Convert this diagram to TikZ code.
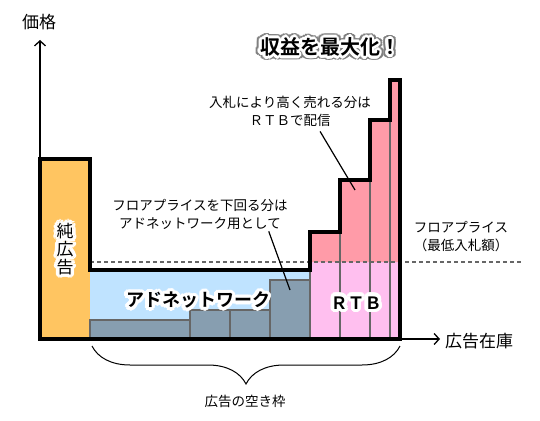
\documentclass[tikz,border=0pt]{standalone}
\usepackage{fontspec}
\setmainfont{Noto Sans CJK JP}
\newfontfamily\jpbold{Noto Sans CJK JP Bold}
\usepackage{tikz}
\usetikzlibrary{arrows.meta}
\usetikzlibrary{decorations.pathreplacing}

\definecolor{pureorange}{HTML}{FFC561}
\definecolor{adsky}{HTML}{BFE3FF}
\definecolor{adslate}{HTML}{879EB0}
\definecolor{rtblow}{HTML}{FFBFEF}
\definecolor{rtbhigh}{HTML}{FF9BA8}
\definecolor{edgegray}{HTML}{666666}

% ring of copies behind a text: style, position, radius, colour, text
\newcommand{\haloring}[5]{%
  \foreach \a in {0,22.5,...,337.5}
    \node[#1, text = #4] at ([shift = {(\a:#3)}] #2) {#5};}

\begin{document}
\begin{tikzpicture}[x = 1pt, y = -1pt,
  every node/.style = {inner sep = 1pt, font = \fontsize{13.5}{18}\selectfont},
  heavy/.style = {font = \jpbold\fontsize{#1}{#1}\selectfont},
  plain/.style = {font = \fontsize{#1}{#1}\selectfont},
  slot/.style = {fill = adslate, draw = edgegray, line width = 1.3pt},
  divider/.style = {draw = edgegray, line width = 1.3pt},
  outline/.style = {line width = 3.6pt, line join = miter},
  axis/.style = {line width = 1.7pt, -{Straight Barb[length = 5pt, width = 11pt, line width = 1.3pt]}},
  leader/.style = {line width = 1.2pt}
]
\useasboundingbox (0,0) rectangle (540,420);

% fills
\fill[pureorange] (40,159) rectangle (90,339);
\fill[adsky] (90,270) rectangle (310,339);
\fill[rtblow] (310,262) rectangle (400,339);
\fill[rtbhigh] (310,262) |- (340,232) |- (370,180) |- (390,120) |- (400,80) -- (400,262) -- cycle;

% ad network slots
\filldraw[slot] (90,339) rectangle (190,320);
\filldraw[slot] (190,339) rectangle (230,310);
\filldraw[slot] (230,339) rectangle (270,310);
\filldraw[slot] (270,339) rectangle (310,280);

% rtb slots
\draw[divider] (310,262) -- (310,339);
\foreach \x/\t in {340/232, 370/180, 390/120}
  \draw[divider] (\x,\t) -- (\x,339);

% floor price
\draw[edgegray, line width = 1.2pt, dash pattern = on 4pt off 3pt] (90,262) -- (522,262);

\draw[outline] (40,339) |- (90,159) |- (310,270) |- (340,232) |- (370,180)
  |- (390,120) |- (400,80) -- (400,339) -- cycle;

% axes
\coordinate (origin) at (40,339);
\coordinate (ytip) at (40,40);
\coordinate (xtip) at (440,339);
\draw[axis] (origin) -- (ytip);
\draw[axis] (origin) -- (xtip);
\node[plain = 17] (price) at (39,22) {価格};
\node[plain = 17, anchor = west] (stock) at (444,341) {広告在庫};

% brace
\draw[line width = 1pt, decorate, decoration = {brace, amplitude = 38pt}]
  (400,346) -- (92,346);
\node (slots) at (245,401) {広告の空き枠};

% labels with white halo
\coordinate (purepos) at (65,249);
\haloring{align = center, font = \fontsize{17}{18}\selectfont}{purepos}{3.6}{white}{純\\広\\告}
\node[align = center, font = \fontsize{17}{18}\selectfont] (pure) at (purepos) {純\\広\\告};

\coordinate (adnetpos) at (198,300);
\haloring{heavy = 18}{adnetpos}{3.6}{white}{アドネットワーク}
\node[heavy = 18] (adnet) at (adnetpos) {アドネットワーク};

\coordinate (rtbpos) at (356,303);
\haloring{heavy = 17}{rtbpos}{3.6}{white}{ＲＴＢ}
\node[heavy = 17] (rtb) at (rtbpos) {ＲＴＢ};

\coordinate (headpos) at (330,47);
\haloring{heavy = 20}{headpos}{4.4}{gray}{収益を最大化！}
\haloring{heavy = 20}{headpos}{2.6}{white}{収益を最大化！}
\node[heavy = 20] (headline) at (headpos) {収益を最大化！};

% notes
\node[align = center] (rtbnote) at (290,111) {入札により高く売れる分は\\ＲＴＢで配信};
\coordinate (rtbpt) at (355,190);
\draw[leader] ([xshift = -52pt, yshift = -4pt] rtbnote.south east) -- (rtbpt);

\node[align = center] (adnote) at (200,214) {フロアプライスを下回る分は\\アドネットワーク用として};
\coordinate (adpt) at (290,290);
\draw[leader] ([xshift = -20pt, yshift = -1pt] adnote.south east) -- (adpt);

\node[align = center] (floor) at (461,237) {フロアプライス\\（最低入札額）};

\end{tikzpicture}
\end{document}
